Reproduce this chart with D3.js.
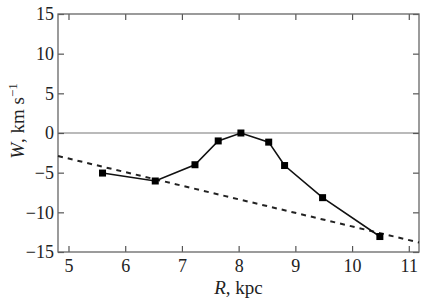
<!DOCTYPE html>
<html>
<head>
<meta charset="utf-8">
<script src="https://cdn.jsdelivr.net/npm/d3@7"></script>
<style>
  body { margin: 0; background: #fff; }
</style>
</head>
<body>
<svg width="436" height="304"></svg>
<script>
// measured points
var radius = [5.6, 6.53, 7.23, 7.64, 8.04, 8.53, 8.81, 9.48, 10.49];
var wVel = [-5.05, -6.05, -4.0, -1.0, 0.0, -1.15, -4.1, -8.15, -13.05];
// dashed trend line, end points
var trendR = [4.815, 11.18];
var trendW = [-2.9, -13.8];
var xTicks = [5, 6, 7, 8, 9, 10, 11];
var yTicks = [-15, -10, -5, 0, 5, 10, 15];

var serif = "'Liberation Serif', 'Times New Roman', serif";

var svg = d3.select("svg"),
  margin = { top: 14, right: 17, bottom: 52, left: 58 },
  width = +svg.attr("width") - margin.left - margin.right,
  height = +svg.attr("height") - margin.top - margin.bottom;

var x = d3.scaleLinear().domain([4.815, 11.18]).range([0, width]);
var y = d3.scaleLinear().domain([-15, 15]).range([height, 0]);

var g = svg.append("g")
  .attr("transform", "translate(" + margin.left + "," + margin.top + ")");

// zero line
g.append("line")
  .attr("x1", 0).attr("x2", width)
  .attr("y1", y(0)).attr("y2", y(0))
  .attr("stroke", "#777").attr("stroke-width", 1.2);

function styleAxis(sel, showText) {
  sel.attr("font-family", serif);
  sel.select(".domain").remove();
  sel.selectAll(".tick line").attr("stroke", "#555").attr("stroke-width", 1.2);
  sel.selectAll(".tick text").attr("font-size", "18px").attr("fill", "#222");
  if (!showText) sel.selectAll(".tick text").remove();
}

g.append("g")
  .attr("transform", "translate(0," + height + ")")
  .call(d3.axisBottom(x).tickValues(xTicks).tickSize(-6).tickPadding(7).tickFormat(d3.format("d")))
  .call(styleAxis, true);

g.append("g")
  .call(d3.axisTop(x).tickValues(xTicks).tickSize(-6))
  .call(styleAxis, false);

g.append("g")
  .call(d3.axisLeft(y).tickValues(yTicks).tickSize(-6).tickPadding(4).tickFormat(function (d) { return d < 0 ? "\u2212" + (-d) : d; }))
  .call(styleAxis, true);

g.append("g")
  .attr("transform", "translate(" + width + ",0)")
  .call(d3.axisRight(y).tickValues(yTicks).tickSize(-6))
  .call(styleAxis, false);

// frame
g.append("rect")
  .attr("width", width).attr("height", height)
  .attr("fill", "none").attr("stroke", "#666").attr("stroke-width", 1.3);

// trend
g.append("line")
  .attr("x1", x(trendR[0])).attr("y1", y(trendW[0]))
  .attr("x2", x(trendR[1])).attr("y2", y(trendW[1]))
  .attr("stroke", "#222").attr("stroke-width", 2)
  .attr("stroke-dasharray", "5,5");

var line = d3.line()
  .x(function (d, i) { return x(radius[i]); })
  .y(function (d, i) { return y(wVel[i]); });

g.append("path")
  .datum(wVel)
  .attr("d", line)
  .attr("fill", "none").attr("stroke", "#111").attr("stroke-width", 1.6);

g.selectAll(".pt")
  .data(wVel)
  .enter().append("rect")
  .attr("class", "pt")
  .attr("x", function (d, i) { return x(radius[i]) - 3.5; })
  .attr("y", function (d) { return y(d) - 3.5; })
  .attr("width", 7).attr("height", 7)
  .attr("fill", "#000");

// axis titles
var xl = svg.append("text")
  .attr("x", margin.left + width / 2)
  .attr("y", 294)
  .attr("text-anchor", "middle")
  .attr("font-family", serif).attr("fill", "#222")
  .attr("font-size", "19px");
xl.append("tspan").attr("font-style", "italic").text("R");
xl.append("tspan").text(", kpc");

var yl = svg.append("text")
  .attr("transform", "translate(24," + (margin.top + height / 2 - 12) + ") rotate(-90)")
  .attr("text-anchor", "middle")
  .attr("font-family", serif).attr("fill", "#222")
  .attr("font-size", "19px");
yl.append("tspan").attr("font-style", "italic").text("W");
yl.append("tspan").text(", km s");
yl.append("tspan").attr("dy", "-7").attr("font-size", "13px").text("\u22121");
</script>
</body>
</html>
